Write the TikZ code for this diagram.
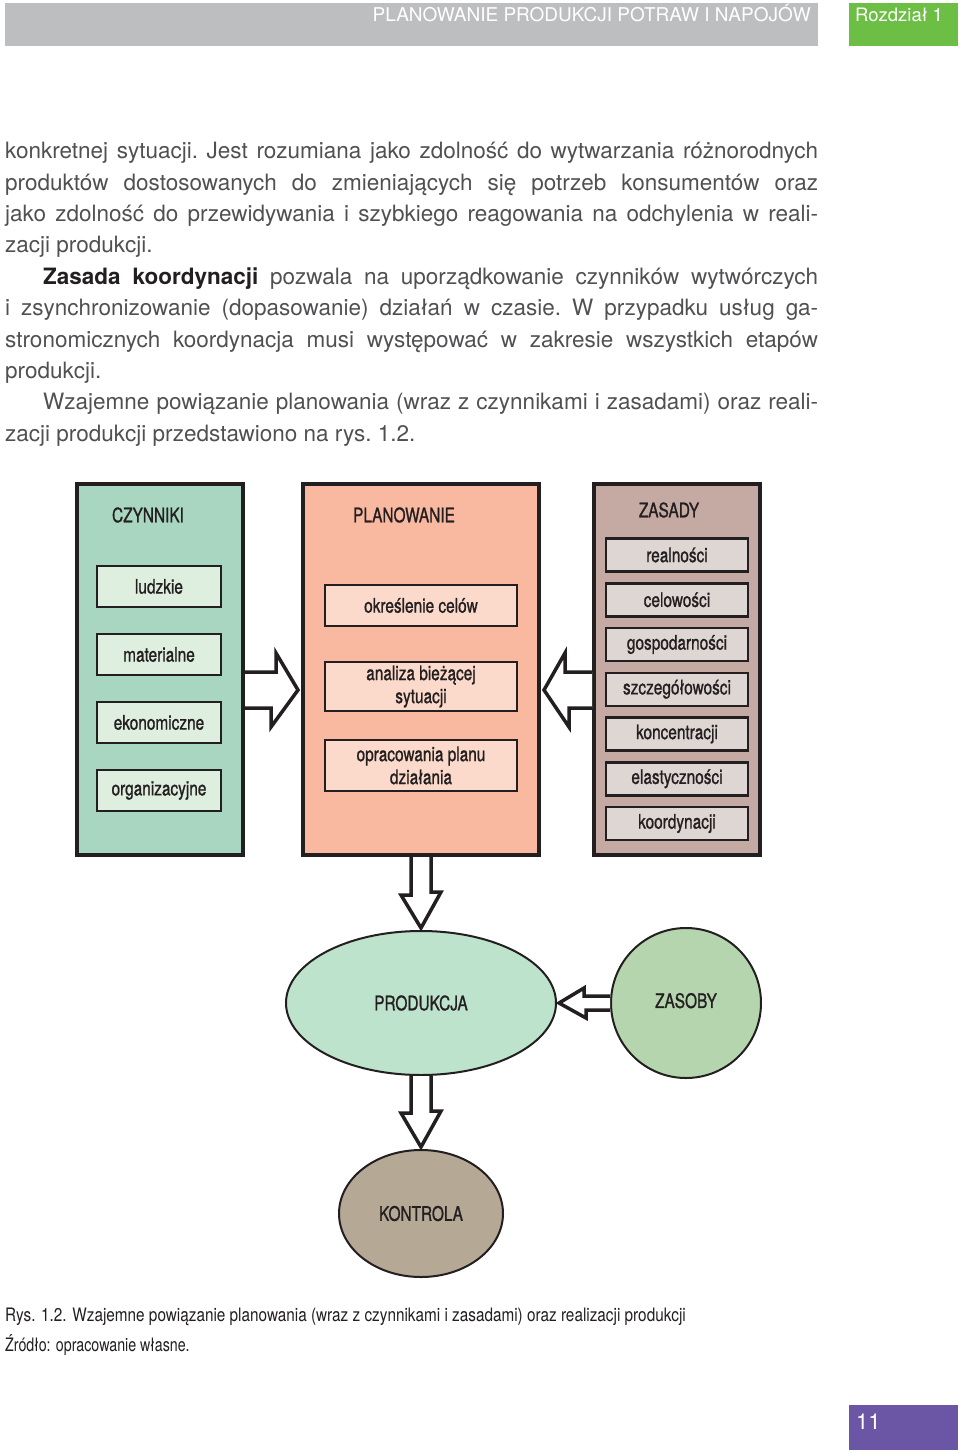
\documentclass[tikz,border=0pt]{standalone}
\usepackage{fontspec}
\setmainfont{TeX Gyre Heros}
\newfontfamily\narrowfont[FakeStretch=0.77,FakeBold=1]{TeX Gyre Heros}
\newfontfamily\captionfont[FakeStretch=0.77]{TeX Gyre Heros}
\usetikzlibrary{positioning,shapes.geometric,calc}

\definecolor{ink}{HTML}{231F20}
\definecolor{bodygray}{HTML}{505052}
\definecolor{hdrgray}{HTML}{BDBEC0}
\definecolor{hdrgreen}{HTML}{6CBE45}
\definecolor{pagepurple}{HTML}{6B55A5}
\definecolor{czynfill}{HTML}{A9D6C1}
\definecolor{czynlight}{HTML}{DEEFE0}
\definecolor{planfill}{HTML}{F9B8A0}
\definecolor{planlight}{HTML}{FCDACB}
\definecolor{zasfill}{HTML}{C5AAA3}
\definecolor{zaslight}{HTML}{DED6D3}
\definecolor{prodfill}{HTML}{BEE3CD}
\definecolor{zasobfill}{HTML}{B5D5AE}
\definecolor{kontfill}{HTML}{B5A996}

\begin{document}
\begin{tikzpicture}[x=1pt, y=-1pt, text=ink,
    font=\narrowfont\fontsize{20}{23}\selectfont,
    outer/.style = {draw=ink, line width=4pt, minimum width=166pt, minimum height=371pt},
    inbox/.style = {draw=ink, line width=2.5pt, align=center, inner sep=0pt},
    czbox/.style = {inbox, fill=czynlight, minimum width=124pt, minimum height=41pt},
    plbox/.style = {inbox, fill=planlight, minimum width=192pt},
    zsbox/.style = {inbox, fill=zaslight, minimum width=142pt, minimum height=33pt},
    oval/.style = {draw=ink, line width=2pt, ellipse, inner sep=0pt},
    blockarr/.style = {draw=ink, fill=white, line width=3.5pt, line join=miter}]
\useasboundingbox (0,0) rectangle (960,1455);

% naglowek strony
\fill[hdrgray] (5,3) rectangle (818,46);
\fill[hdrgreen] (849,3) rectangle (958,46);
\node[anchor=base east, inner sep=0pt, text=white, font=\fontsize{19}{19}\selectfont] (tytul) at (811,22) {PLANOWANIE PRODUKCJI POTRAW I NAPOJÓW};
\node[anchor=base west, inner sep=0pt, text=white, font=\fontsize{18.5}{19}\selectfont] (rozdz) at (855,22) {Rozdział 1};

% tekst
\node[anchor=north west, inner sep=0pt, text width=813pt, align=justify, text=bodygray,
      font=\fontsize{22.5}{31.4}\selectfont] (tekst) at (5,142)
{\tolerance=9999\parindent=0pt\frenchspacing
konkretnej sytuacji. Jest rozumiana jako zdolność do wytwarzania różnorodnych\linebreak
produktów dostosowanych do zmieniających się potrzeb konsumentów oraz\linebreak
jako zdolność do przewidywania i szybkiego reagowania na odchylenia w reali-\linebreak
zacji produkcji.\par
\hspace*{38pt}{\bfseries\color{ink}Zasada koordynacji} pozwala na uporządkowanie czynników wytwórczych\linebreak
i zsynchronizowanie (dopasowanie) działań w czasie. W przypadku usług ga-\linebreak
stronomicznych koordynacja musi występować w zakresie wszystkich etapów\linebreak
produkcji.\par
\hspace*{38pt}Wzajemne powiązanie planowania (wraz z czynnikami i zasadami) oraz reali-\linebreak
zacji produkcji przedstawiono na rys. 1.2.};

% trzy bloki
\node[outer, fill=czynfill] (czyn) at (160,669.5) {};
\node[outer, fill=planfill, minimum width=236pt] (plan) at (421,669.5) {};
\node[outer, fill=zasfill] (zas) at (677,669.5) {};
\node (czyn-t) at (148,515) {CZYNNIKI};
\node (plan-t) at (404,515) {PLANOWANIE};
\node (zas-t) at (669,510) {ZASADY};

% czynniki
\node[czbox] (ludz) at (159,586.5) {ludzkie};
\node[czbox] (mater) [below of = ludz, node distance=68pt] {materialne};
\node[czbox] (ekon) [below of = mater, node distance=68pt] {ekonomiczne};
\node[czbox] (organ) [below of = ekon, node distance=68pt] {organizacyjne};

% planowanie
\node[plbox, minimum height=41pt] (cele) at (421,605.5) {określenie celów};
\node[plbox, minimum height=49pt] (anal) [below of = cele, node distance=81pt] {analiza bieżącej\\sytuacji};
\node[plbox, minimum height=51pt] (plandz) [below of = anal, node distance=79pt] {opracowania planu\\działania};

% zasady
\node[zsbox] (z1) at (677,555) {realności};
\node[zsbox] (z2) [below of = z1, node distance=44.75pt] {celowości};
\node[zsbox] (z3) [below of = z2, node distance=44.75pt] {gospodarności};
\node[zsbox] (z4) [below of = z3, node distance=44.75pt] {szczegółowości};
\node[zsbox] (z5) [below of = z4, node distance=44.75pt] {koncentracji};
\node[zsbox] (z6) [below of = z5, node distance=44.75pt] {elastyczności};
\node[zsbox] (z7) [below of = z6, node distance=44.75pt] {koordynacji};

% produkcja, zasoby, kontrola
\node[oval, fill=prodfill, minimum width=270pt, minimum height=144pt] (prod) at (421,1003) {PRODUKCJA};
\node[oval, circle, fill=zasobfill, minimum size=150pt] (zasob) at (686,1003) {\raisebox{5pt}{ZASOBY}};
\node[oval, fill=kontfill, minimum width=164pt, minimum height=127pt] (kont) at (421,1213.5) {KONTROLA};

% strzalki
\draw[blockarr] ($(czyn.east)+(0,2.5)$) -- ++(31,0) -- ++(0,-19) -- ($(plan.west)+(-3,20.5)$)
    -- ++(-27,37) -- ++(0,-19) -- ($(czyn.east)+(0,38.5)$);
\draw[blockarr] ($(zas.west)+(0,2.5)$) -- ++(-27,0) -- ++(0,-19) -- ($(plan.east)+(3,20.5)$)
    -- ++(25,37) -- ++(0,-19) -- ($(zas.west)+(0,38.5)$);
\draw[blockarr] ($(plan.south)+(-10,0)$) -- ++(0,38) -- ++(-10,0) -- ($(prod.north)+(0,-2)$)
    -- ++(20,-36) -- ++(-10,0) -- ($(plan.south)+(10,0)$);
\draw[blockarr] ($(zasob.west)+(0,-7)$) -- ++(-26,0) -- ++(0,-8) -- ($(prod.east)+(2,0)$)
    -- ++(27,15) -- ++(0,-8) -- ($(zasob.west)+(0,7)$);
\draw[blockarr] ($(prod.south)+(-10,0)$) -- ++(0,37) -- ++(-10,0) -- ($(kont.north)+(0,-2)$)
    -- ++(20,-36) -- ++(-10,0) -- ($(prod.south)+(10,0)$);

% podpis
\node[anchor=base west, inner sep=0pt, font=\captionfont\fontsize{18.5}{20}\selectfont] (rys) at (5,1321)
  {\scalebox{1.075}[1]{Rys. 1.2. Wzajemne powiązanie planowania (wraz z czynnikami i zasadami) oraz realizacji produkcji}};
\node[anchor=base west, inner sep=0pt, font=\captionfont\fontsize{18.5}{20}\selectfont] (zrodlo) at (5,1351)
  {Źródło: opracowanie własne.};

% numer strony
\fill[pagepurple] (849,1405) rectangle (958,1450);
\node[anchor=base west, inner sep=0pt, text=white, font=\fontsize{22}{22}\selectfont] (nrstr) at (856,1429) {11};
\end{tikzpicture}
\end{document}
